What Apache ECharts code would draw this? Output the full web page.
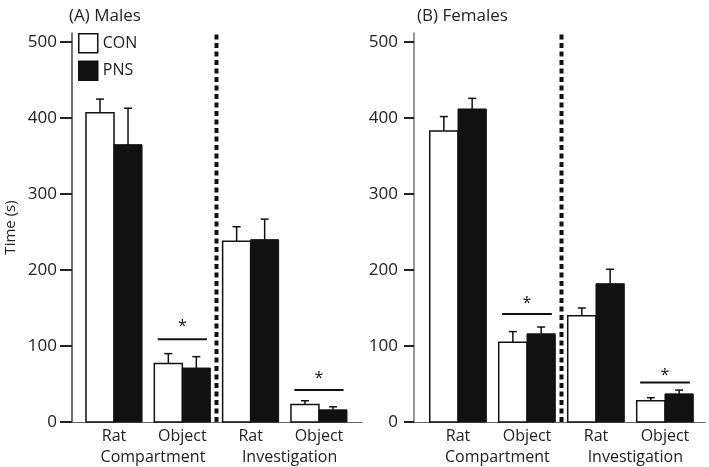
<!DOCTYPE html>
<html>
<head>
<meta charset="utf-8">
<script src="https://cdn.jsdelivr.net/npm/echarts@6/dist/echarts.min.js"></script>
<style>html,body{margin:0;padding:0;background:#fff}#c{width:709px;height:467px}</style>
</head>
<body>
<div id="c"></div>
<script>
// ---- data ----
const categories = ['Rat', 'Object', 'Rat', 'Object'];
const groupLabels = ['Compartment', 'Investigation'];
const yTicks = [0, 100, 200, 300, 400, 500];
const seriesNames = ['CON', 'PNS'];

const malesCON = [407, 77, 238, 23];
const malesCONerr = [18, 13, 19, 5];
const malesPNS = [365, 71, 240, 16];
const malesPNSerr = [48, 15, 27, 4];

const femalesCON = [383, 105, 140, 28];
const femalesCONerr = [19, 14, 10, 4];
const femalesPNS = [412, 116, 182, 37];
const femalesPNSerr = [14, 9, 19, 5];

// significance: [group index, line level, star level]
const sigMales = [[1, 109, 131], [3, 42, 62]];
const sigFemales = [[1, 142, 161], [3, 52, 67]];

// separator between the two measures (between group 1 and 2)
const separators = [[1.5]];

const panelTitles = ['(A) Males', '(B) Females'];

// ---- chart ----
const FONT = '"Open Sans", "Noto Sans", sans-serif';
const TXT = '#222';
const BAR_FRAC = 0.41;
const Y_MAX = 512;

const chart = echarts.init(document.getElementById('c'), null, {renderer: 'canvas'});

function barData(vals, errs, side) { return vals.map((v, i) => [i, v, errs[i], side]); }

function barRender(params, api) {
  const x = api.value(0), v = api.value(1), side = api.value(3);
  const bw = api.size([1, 0])[0] * BAR_FRAC;
  const p0 = api.coord([x, 0]);
  const p1 = api.coord([x, v]);
  const left = side < 0 ? p0[0] - bw : p0[0];
  return {
    type: 'rect',
    shape: {x: left, y: p1[1], width: bw, height: p0[1] - p1[1]},
    style: api.style()
  };
}

function errRender(params, api) {
  const x = api.value(0), v = api.value(1), e = api.value(2), side = api.value(3);
  const bw = api.size([1, 0])[0] * BAR_FRAC;
  const base = api.coord([x, v]);
  const top = api.coord([x, v + e]);
  const xc = base[0] + side * bw / 2;
  const cap = 4;
  return {
    type: 'group',
    children: [
      {type: 'line', shape: {x1: xc, y1: base[1], x2: xc, y2: top[1]}, style: {stroke: '#111', lineWidth: 1.5}},
      {type: 'line', shape: {x1: xc - cap, y1: top[1], x2: xc + cap, y2: top[1]}, style: {stroke: '#111', lineWidth: 1.5}}
    ]
  };
}

function sigRender(params, api) {
  const i = api.value(0), lvl = api.value(1), sLvl = api.value(2);
  const half = 0.36;
  const p1 = api.coord([i - half, lvl]);
  const p2 = api.coord([i + half, lvl]);
  const ps = api.coord([i, sLvl]);
  return {
    type: 'group',
    children: [
      {type: 'line', shape: {x1: p1[0], y1: p1[1], x2: p2[0], y2: p2[1]}, style: {stroke: '#111', lineWidth: 2}},
      {type: 'text', x: ps[0], y: ps[1] + 4, style: {text: '*', fill: '#111', font: '16px ' + FONT, align: 'center', verticalAlign: 'middle'}}
    ]
  };
}

function sepRender(params, api) {
  const x = api.value(0);
  const pb = api.coord([x, 0]);
  const pt = api.coord([x, Y_MAX]);
  return {
    type: 'line',
    shape: {x1: pb[0], y1: pb[1], x2: pt[0], y2: pt[1]},
    style: {stroke: '#111', lineWidth: 4, lineDash: [5, 3.5]}
  };
}

const grids = [
  {left: 72, width: 290, top: 33, height: 389, containLabel: false, outerBoundsMode: 'none'},
  {left: 414, width: 291, top: 33, height: 389, containLabel: false, outerBoundsMode: 'none'}
];
const xExt = [[-0.615, 3.63], [-0.638, 3.58]];

const xAxes = [];
const yAxes = [];
[0, 1].forEach(g => {
  xAxes.push({
    type: 'value', gridIndex: g, min: xExt[g][0], max: xExt[g][1], position: 'bottom',
    axisLine: {show: true, onZero: false, lineStyle: {color: '#666', width: 1.2}},
    axisTick: {show: false}, splitLine: {show: false},
    axisLabel: {customValues: [0, 1, 2, 3], formatter: v => categories[Math.round(v)], margin: 6,
      color: TXT, fontSize: 16, fontFamily: FONT}
  });
  xAxes.push({
    type: 'value', gridIndex: g, min: xExt[g][0], max: xExt[g][1], position: 'bottom',
    axisLine: {show: false, onZero: false}, axisTick: {show: false}, splitLine: {show: false},
    axisLabel: {customValues: [0.57, 2.57], formatter: v => groupLabels[v < 1.5 ? 0 : 1], margin: 27,
      color: TXT, fontSize: 16, fontFamily: FONT}
  });
  yAxes.push({
    type: 'value', gridIndex: g, min: 0, max: Y_MAX, position: 'left',
    name: g === 0 ? 'Time (s)' : '', nameLocation: 'middle', nameGap: 54,
    nameTextStyle: {color: TXT, fontSize: 15, fontFamily: FONT},
    axisLine: {show: true, onZero: false, lineStyle: {color: g === 0 ? '#444' : '#777', width: 1.5}},
    axisTick: {show: true, customValues: yTicks, length: g === 0 ? 12 : 10, lineStyle: {color: '#222', width: 2}},
    axisLabel: {customValues: yTicks, margin: g === 0 ? 15 : 16, color: TXT, fontSize: 17, fontFamily: FONT},
    splitLine: {show: false}
  });
});

const conStyle = {color: '#fff', borderColor: '#111', borderWidth: 1.5};
const pnsStyle = {color: '#111', borderColor: '#111', borderWidth: 1};

const panels = [
  {con: malesCON, conE: malesCONerr, pns: malesPNS, pnsE: malesPNSerr, sig: sigMales},
  {con: femalesCON, conE: femalesCONerr, pns: femalesPNS, pnsE: femalesPNSerr, sig: sigFemales}
];

const series = [];
panels.forEach((p, g) => {
  const xi = g * 2, yi = g;
  const common = {type: 'custom', xAxisIndex: xi, yAxisIndex: yi, silent: true, encode: {x: 0, y: 1}};
  series.push(Object.assign({}, common, {name: 'sep' + g, renderItem: sepRender, data: separators, encode: {x: 0}, z: 1}));
  series.push(Object.assign({}, common, {name: seriesNames[0], renderItem: barRender, data: barData(p.con, p.conE, -1), itemStyle: conStyle, z: 2}));
  series.push(Object.assign({}, common, {name: seriesNames[1], renderItem: barRender, data: barData(p.pns, p.pnsE, 1), itemStyle: pnsStyle, z: 2}));
  series.push(Object.assign({}, common, {name: 'errCON' + g, renderItem: errRender, data: barData(p.con, p.conE, -1), z: 3}));
  series.push(Object.assign({}, common, {name: 'errPNS' + g, renderItem: errRender, data: barData(p.pns, p.pnsE, 1), z: 3}));
  series.push(Object.assign({}, common, {name: 'sig' + g, renderItem: sigRender, data: p.sig, z: 3}));
});

chart.setOption({
  animation: false,
  backgroundColor: '#fff',
  title: [
    {text: panelTitles[0], left: 64, top: 3, textStyle: {color: TXT, fontSize: 17, fontWeight: 'normal', fontFamily: FONT}},
    {text: panelTitles[1], left: 412, top: 3, textStyle: {color: TXT, fontSize: 17, fontWeight: 'normal', fontFamily: FONT}}
  ],
  legend: {
    data: seriesNames, orient: 'vertical', left: 78, top: 33, padding: 0,
    itemWidth: 19, itemHeight: 19, itemGap: 7,
    icon: 'rect', selectedMode: false,
    itemStyle: {borderColor: '#111', borderWidth: 1.5},
    textStyle: {color: TXT, fontSize: 16, fontFamily: FONT}
  },
  grid: grids,
  xAxis: xAxes,
  yAxis: yAxes,
  series: series
});
</script>
</body>
</html>
